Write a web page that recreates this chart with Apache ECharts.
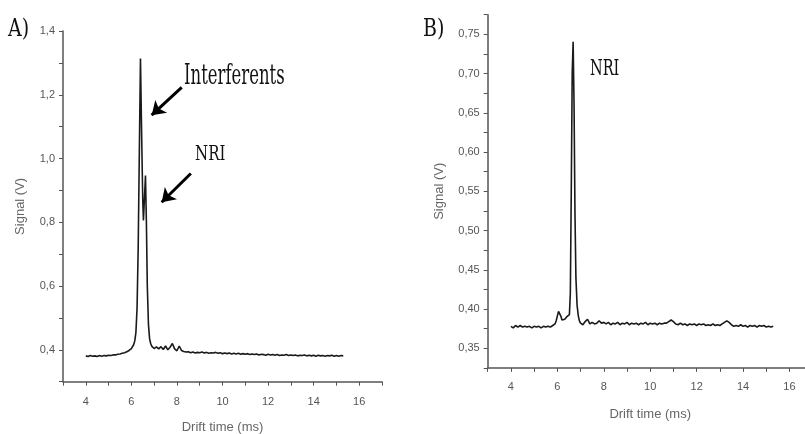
<!DOCTYPE html>
<html>
<head>
<meta charset="utf-8">
<script src="https://cdn.jsdelivr.net/npm/echarts@6/dist/echarts.min.js"></script>
<style>
  html, body { margin: 0; padding: 0; background: #fff; }
  #chart { width: 805px; height: 434px; }
</style>
</head>
<body>
<div id="chart"></div>
<script>
// Panel A: sample with interferents (drift time in ms, signal in V)
const leftTime = [
  4.0, 4.1, 4.2, 4.3, 4.4, 4.5, 4.6, 4.7, 4.8, 4.9,
  5.0, 5.1, 5.2, 5.3, 5.4, 5.5, 5.6, 5.7, 5.8, 5.9,
  6.0, 6.05, 6.1, 6.15, 6.2, 6.25, 6.3, 6.35, 6.4, 6.45,
  6.5, 6.53, 6.57, 6.62, 6.66, 6.7, 6.75, 6.8, 6.85, 6.9,
  6.95, 7.0, 7.1, 7.2, 7.3, 7.4, 7.5, 7.6, 7.7, 7.8,
  7.9, 8.0, 8.1, 8.2, 8.3, 8.4, 8.5, 8.6, 8.7, 8.8,
  8.9, 9.0, 9.1, 9.2, 9.3, 9.4, 9.5, 9.6, 9.7, 9.8,
  9.9, 10.0, 10.1, 10.2, 10.3, 10.4, 10.5, 10.6, 10.7, 10.8,
  10.9, 11.0, 11.1, 11.2, 11.3, 11.4, 11.5, 11.6, 11.7, 11.8,
  11.9, 12.0, 12.1, 12.2, 12.3, 12.4, 12.5, 12.6, 12.7, 12.8,
  12.9, 13.0, 13.1, 13.2, 13.3, 13.4, 13.5, 13.6, 13.7, 13.8,
  13.9, 14.0, 14.1, 14.2, 14.3, 14.4, 14.5, 14.6, 14.7, 14.8,
  14.9, 15.0, 15.1, 15.2, 15.3
];
const leftSignal = [
  0.381, 0.379, 0.382, 0.380, 0.381, 0.379, 0.382, 0.380, 0.382, 0.381,
  0.383, 0.382, 0.384, 0.384, 0.386, 0.387, 0.389, 0.391, 0.394, 0.398,
  0.404, 0.409, 0.416, 0.428, 0.455, 0.530, 0.720, 1.020, 1.314, 1.080,
  0.870, 0.806, 0.870, 0.947, 0.800, 0.600, 0.480, 0.435, 0.419, 0.411,
  0.406, 0.404, 0.409, 0.403, 0.410, 0.401, 0.412, 0.400, 0.408, 0.420,
  0.403, 0.397, 0.412, 0.398, 0.395, 0.393, 0.394, 0.391, 0.393, 0.390,
  0.392, 0.391, 0.393, 0.390, 0.392, 0.389, 0.391, 0.390, 0.392, 0.389,
  0.391, 0.388, 0.390, 0.388, 0.390, 0.387, 0.389, 0.387, 0.389, 0.386,
  0.388, 0.386, 0.388, 0.385, 0.387, 0.385, 0.387, 0.384, 0.386, 0.385,
  0.383, 0.386, 0.384, 0.385, 0.383, 0.385, 0.382, 0.384, 0.383, 0.385,
  0.382, 0.384, 0.382, 0.384, 0.381, 0.383, 0.382, 0.384, 0.381, 0.383,
  0.381, 0.383, 0.380, 0.383, 0.381, 0.382, 0.380, 0.382, 0.381, 0.383,
  0.380, 0.382, 0.380, 0.382, 0.381
];

// Panel B: NRI only
const rightTime = [
  4.0, 4.1, 4.2, 4.3, 4.4, 4.5, 4.6, 4.7, 4.8, 4.9,
  5.0, 5.1, 5.2, 5.3, 5.4, 5.5, 5.6, 5.7, 5.8, 5.9,
  5.95, 6.0, 6.05, 6.09, 6.15, 6.2, 6.26, 6.32, 6.4, 6.48,
  6.52, 6.56, 6.6, 6.64, 6.68, 6.72, 6.76, 6.8, 6.85, 6.9,
  6.95, 7.0, 7.1, 7.2, 7.3, 7.4, 7.5, 7.6, 7.7, 7.8,
  7.9, 8.0, 8.1, 8.2, 8.3, 8.4, 8.5, 8.6, 8.7, 8.8,
  8.9, 9.0, 9.1, 9.2, 9.3, 9.4, 9.5, 9.6, 9.7, 9.8,
  9.9, 10.0, 10.1, 10.2, 10.3, 10.4, 10.5, 10.6, 10.7, 10.8,
  10.9, 11.0, 11.1, 11.2, 11.3, 11.4, 11.5, 11.6, 11.7, 11.8,
  11.9, 12.0, 12.1, 12.2, 12.3, 12.4, 12.5, 12.6, 12.7, 12.8,
  12.9, 13.0, 13.1, 13.2, 13.3, 13.4, 13.5, 13.6, 13.7, 13.8,
  13.9, 14.0, 14.1, 14.2, 14.3, 14.4, 14.5, 14.6, 14.7, 14.8,
  14.9, 15.0, 15.1, 15.2, 15.3
];
const rightSignal = [
  0.378, 0.376, 0.379, 0.377, 0.379, 0.377, 0.378, 0.377, 0.378, 0.376,
  0.378, 0.377, 0.378, 0.376, 0.378, 0.377, 0.378, 0.377, 0.379, 0.381,
  0.385, 0.391, 0.397, 0.398, 0.391, 0.386, 0.384, 0.387, 0.390, 0.391,
  0.393, 0.420, 0.550, 0.700, 0.7406, 0.660, 0.520, 0.440, 0.405, 0.392,
  0.385, 0.382, 0.380, 0.384, 0.387, 0.381, 0.383, 0.381, 0.382, 0.385,
  0.382, 0.383, 0.381, 0.383, 0.380, 0.382, 0.381, 0.383, 0.380, 0.382,
  0.381, 0.383, 0.380, 0.382, 0.381, 0.382, 0.380, 0.382, 0.381, 0.383,
  0.380, 0.382, 0.381, 0.382, 0.380, 0.382, 0.381, 0.382, 0.382, 0.384,
  0.386, 0.384, 0.381, 0.380, 0.382, 0.380, 0.381, 0.379, 0.381, 0.380,
  0.381, 0.379, 0.381, 0.380, 0.381, 0.379, 0.380, 0.379, 0.381, 0.379,
  0.380, 0.379, 0.381, 0.383, 0.385, 0.383, 0.380, 0.378, 0.379, 0.378,
  0.380, 0.378, 0.379, 0.377, 0.379, 0.378, 0.379, 0.377, 0.379, 0.378,
  0.379, 0.377, 0.378, 0.377, 0.378
];

// Arrow annotations in panel A: [start, end] in data coordinates
const arrowInterferents = [[8.21, 1.223], [6.89, 1.136]];
const arrowNRI = [[8.61, 0.953], [7.33, 0.863]];

const xTickLabels = [4, 6, 8, 10, 12, 14, 16];

function zip(xs, ys) { return xs.map((x, i) => [x, ys[i]]); }

const axisColor = '#555';
const labelFont = "'Liberation Sans Narrow', 'Liberation Sans', Arial, sans-serif";

function xAxisCfg(gridIndex, margin, gap) {
  return {
    type: 'value', gridIndex, min: 3, max: 17, interval: 1,
    name: 'Drift time (ms)', nameLocation: 'middle', nameGap: gap,
    nameTextStyle: { color: '#666', fontSize: 13, fontFamily: labelFont },
    axisLine: { show: true, lineStyle: { color: axisColor, width: 1.5 } },
    axisTick: { show: true, length: 4, lineStyle: { color: axisColor } },
    axisLabel: {
      color: '#555', fontSize: 11, fontFamily: labelFont, margin: margin,
      formatter: v => (xTickLabels.includes(Math.round(v)) ? String(Math.round(v)) : '')
    },
    splitLine: { show: false }
  };
}

const chart = echarts.init(document.getElementById('chart'), null, { renderer: 'canvas' });

chart.setOption({
  animation: false,
  backgroundColor: '#fff',
  grid: [
    { left: 63, top: 31, width: 319, height: 350.7, containLabel: false, outerBoundsMode: 'none' },
    { left: 487.7, top: 14.7, width: 325, height: 353.2, containLabel: false, outerBoundsMode: 'none' }
  ],
  xAxis: [xAxisCfg(0, 15, 39), xAxisCfg(1, 14, 40)],
  yAxis: [
    {
      type: 'value', gridIndex: 0, min: 0.3, max: 1.4, interval: 0.1,
      name: 'Signal (V)', nameLocation: 'middle', nameGap: 36,
      nameTextStyle: { color: '#666', fontSize: 13, fontFamily: labelFont },
      axisLine: { show: true, lineStyle: { color: axisColor, width: 1.5 } },
      axisTick: { show: true, length: 4, lineStyle: { color: axisColor } },
      axisLabel: {
        color: '#555', fontSize: 11, fontFamily: labelFont, margin: 8,
        formatter: v => {
          const k = Math.round(v * 10);
          return k % 2 === 0 ? (k / 10).toFixed(1).replace('.', ',') : '';
        }
      },
      splitLine: { show: false }
    },
    {
      type: 'value', gridIndex: 1, min: 0.325, max: 0.775, interval: 0.025,
      name: 'Signal (V)', nameLocation: 'middle', nameGap: 42,
      nameTextStyle: { color: '#666', fontSize: 13, fontFamily: labelFont },
      axisLine: { show: true, lineStyle: { color: axisColor, width: 1.5 } },
      axisTick: { show: true, length: 4, lineStyle: { color: axisColor } },
      axisLabel: {
        color: '#555', fontSize: 11, fontFamily: labelFont, margin: 8,
        formatter: v => {
          const k = Math.round(v * 1000);
          return k % 50 === 0 ? (k / 1000).toFixed(2).replace('.', ',') : '';
        }
      },
      splitLine: { show: false }
    }
  ],
  series: [
    {
      type: 'line', xAxisIndex: 0, yAxisIndex: 0,
      data: zip(leftTime, leftSignal),
      showSymbol: false, smooth: false,
      lineStyle: { color: '#1a1a1a', width: 1.6 },
      markLine: {
        silent: true,
        symbol: ['none', 'arrow'],
        symbolSize: 13,
        label: { show: false },
        lineStyle: { color: '#000', width: 3, type: 'solid' },
        data: [
          [{ coord: arrowInterferents[0] }, { coord: arrowInterferents[1] }],
          [{ coord: arrowNRI[0] }, { coord: arrowNRI[1] }]
        ]
      }
    },
    {
      type: 'line', xAxisIndex: 1, yAxisIndex: 1,
      data: zip(rightTime, rightSignal),
      showSymbol: false, smooth: false,
      lineStyle: { color: '#1a1a1a', width: 1.6 }
    }
  ],
  graphic: [
    {
      type: 'text', x: 8, y: 30, originY: 0, scaleY: 1.25,
      style: { text: 'A)', font: "19px 'DejaVu Serif'", fill: '#111', verticalAlign: 'middle' }
    },
    {
      type: 'text', x: 423, y: 30, originY: 0, scaleY: 1.25,
      style: { text: 'B)', font: "19px 'DejaVu Serif'", fill: '#111', verticalAlign: 'middle' }
    },
    {
      type: 'text', x: 184, y: 77, originY: 0, scaleY: 1.7,
      style: { text: 'Interferents', font: "16.5px 'DejaVu Serif'", fill: '#111', verticalAlign: 'middle' }
    },
    {
      type: 'text', x: 195, y: 155, originY: 0, scaleY: 1.3,
      style: { text: 'NRI', font: "15px 'DejaVu Serif'", fill: '#111', verticalAlign: 'middle' }
    },
    {
      type: 'text', x: 590, y: 69.5, originY: 0, scaleY: 1.55,
      style: { text: 'NRI', font: "14.5px 'DejaVu Serif'", fill: '#111', verticalAlign: 'middle' }
    }
  ]
});
</script>
</body>
</html>
